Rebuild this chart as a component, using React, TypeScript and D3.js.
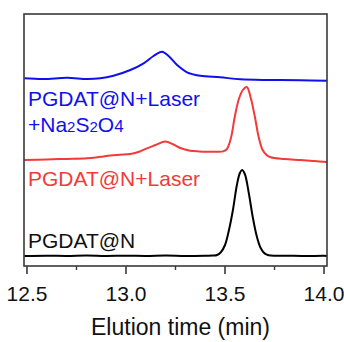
import React from "react";
import * as d3 from "d3";

const blackT = [12.486, 12.6, 12.7, 12.8, 12.9, 13.0, 13.1, 13.2, 13.3, 13.4, 13.44, 13.46, 13.48, 13.5, 13.52, 13.54, 13.56, 13.575, 13.586, 13.6, 13.62, 13.64, 13.66, 13.68, 13.7, 13.72, 13.75, 13.8, 13.9, 14.0, 14.016];
const blackV = [0, 0.3, 0, 0.4, 0, 0.3, 0, 0.4, 0, 0.2, 0.4, 1, 4, 11, 26, 46, 71, 83, 86, 82, 63, 39, 20, 8, 2.6, 0.8, 0.2, 0.3, 0, 0.2, 0];

const redT = [12.486, 12.6, 12.7, 12.803, 12.87, 12.921, 12.97, 13.022, 13.07, 13.106, 13.15, 13.198, 13.24, 13.274, 13.324, 13.37, 13.409, 13.46, 13.49, 13.51, 13.53, 13.55, 13.57, 13.59, 13.61, 13.63, 13.65, 13.67, 13.69, 13.71, 13.73, 13.8, 13.88, 13.95, 14.016];
const redV = [0, 0.6, 1.1, 1.7, 3.2, 4.6, 5.3, 6, 8.5, 11.7, 15, 18.5, 15.5, 12, 9.3, 8.6, 8.3, 8.2, 8.6, 11, 22, 44, 61, 70, 73, 62, 44, 23, 10, 5, 2.7, 1, 0, -1, -2];

const blueT = [12.486, 12.584, 12.702, 12.803, 12.87, 12.937, 13.022, 13.089, 13.139, 13.182, 13.215, 13.258, 13.308, 13.375, 13.476, 13.577, 13.729, 13.88, 14.016];
const blueV = [1.7, 1, 2.2, 1, 1.7, 4.3, 10, 16.7, 24, 28.3, 24, 15, 7.7, 4.3, 2.7, 0.7, 0, -0.3, -0.7];

const seriesNames = ["PGDAT@N", "PGDAT@N+Laser", "PGDAT@N+Laser +Na2S2O4"];
const seriesOffsets = [0, 96, 176];
const seriesColors = ["#000000", "#f23a3a", "#1010ee"];

const xTicks = [12.5, 13.0, 13.5, 14.0];
const xTickLabels = ["12.5", "13.0", "13.5", "14.0"];
const xMinorTicks = [12.75, 13.25, 13.75];
const xTitle = "Elution time (min)";

export default function App() {
  const W = 344, H = 342;
  const left = 24, right = 327, top = 14, bottom = 266;
  const x = d3.scaleLinear().domain([12.485, 14.015]).range([left, right]);
  const y = d3.scaleLinear().domain([-10, 242]).range([bottom, top]);
  const line = d3
    .line<[number, number]>()
    .x((d) => x(d[0]))
    .y((d) => y(d[1]))
    .curve(d3.curveCatmullRom.alpha(0.5));

  const data: [number[], number[]][] = [
    [blackT, blackV],
    [redT, redV],
    [blueT, blueV],
  ];

  const font = "Arial, 'Liberation Sans', sans-serif";

  return (
    <svg width={W} height={H} style={{ position: "absolute", left: 0, top: 0, background: "#fff" }} fontFamily={font}>
      {data.map(([ts, vs], i) => (
        <path
          key={i}
          d={line(ts.map((t, j) => [t, vs[j] + seriesOffsets[i]] as [number, number])) || ""}
          fill="none"
          stroke={seriesColors[i]}
          strokeWidth={2}
          strokeLinejoin="round"
        />
      ))}
      <rect x={left} y={top} width={right - left} height={bottom - top} fill="none" stroke="#3a3a3a" strokeWidth={1.6} />
      {xTicks.map((t, i) => (
        <g key={"t" + i}>
          <line x1={x(t)} x2={x(t)} y1={bottom} y2={bottom + 8} stroke="#3a3a3a" strokeWidth={1.6} />
          <text x={x(t)} y={301} fontSize={21} textAnchor="middle" fill="#111">
            {xTickLabels[i]}
          </text>
        </g>
      ))}
      {xMinorTicks.map((t, i) => (
        <line key={"m" + i} x1={x(t)} x2={x(t)} y1={bottom} y2={bottom + 4} stroke="#3a3a3a" strokeWidth={1.4} />
      ))}
      <text x={(left + right) / 2 + 5} y={335} fontSize={23} textAnchor="middle" fill="#111">
        {xTitle}
      </text>
      <text x={28} y={248} fontSize={21} fill="#111">{seriesNames[0]}</text>
      <text x={28} y={185.5} fontSize={21} fill={seriesColors[1]}>{seriesNames[1]}</text>
      <text x={28} y={106} fontSize={21} fill={seriesColors[2]}>{seriesNames[1]}</text>
      <text x={28} y={131.5} fontSize={21} fill={seriesColors[2]}>
        +Na
        <tspan fontSize={15}>2</tspan>
        <tspan fontSize={21}>S</tspan>
        <tspan fontSize={15}>2</tspan>
        <tspan fontSize={21}>O</tspan>
        <tspan fontSize={17}>4</tspan>
      </text>
    </svg>
  );
}
